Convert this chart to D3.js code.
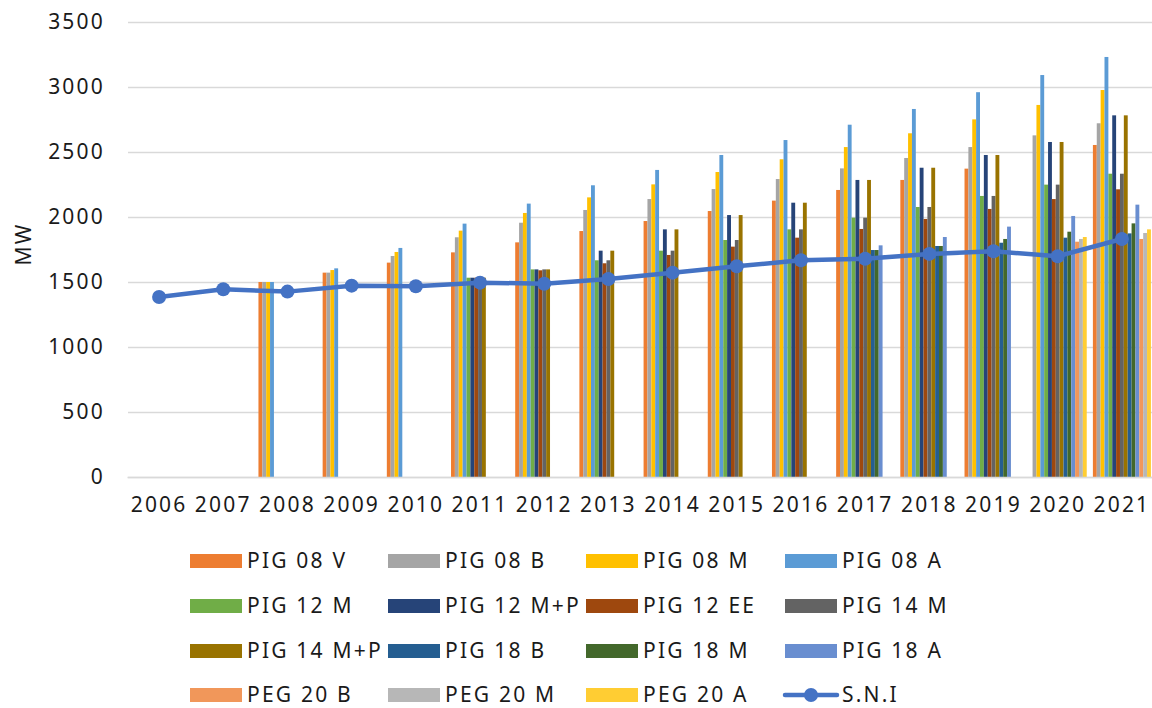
<!DOCTYPE html>
<html>
<head>
<meta charset="utf-8">
<script src="https://cdn.jsdelivr.net/npm/d3@7/dist/d3.min.js"></script>
<style>
  html, body { margin: 0; padding: 0; background: #fff; }
  svg { display: block; }
  text { font-family: "Noto Sans", "Open Sans", sans-serif; fill: #1a1a1a; letter-spacing: 2.2px; }
</style>
</head>
<body>
<svg id="chart" width="1152" height="708"></svg>
<script>
// Installed capacity by planning scenario (MW), 2006–2021
const years = ["2006","2007","2008","2009","2010","2011","2012","2013","2014","2015","2016","2017","2018","2019","2020","2021"];
const yTicks = [0, 500, 1000, 1500, 2000, 2500, 3000, 3500];

const seriesNames = ["PIG 08 V","PIG 08 B","PIG 08 M","PIG 08 A","PIG 12 M","PIG 12 M+P","PIG 12 EE","PIG 14 M","PIG 14 M+P","PIG 18 B","PIG 18 M","PIG 18 A","PEG 20 B","PEG 20 M","PEG 20 A"];
const seriesColors = ["#ed7d31","#a5a5a5","#ffc000","#5b9bd5","#70ad47","#264478","#9e480e","#636363","#997300","#255e91","#43682b","#698ed0","#f1975a","#b7b7b7","#ffcd33"];

const _ = null;
const pig08V  = [_,_,1500,1572,1649,1728,1805,1892,1969,2046,2126,2208,2285,2372,_,2554];
const pig08B  = [_,_,1500,1572,1700,1844,1956,2054,2138,2215,2292,2374,2454,2538,2628,2721];
const pig08M  = [_,_,1500,1592,1731,1895,2031,2151,2251,2346,2444,2538,2644,2751,2862,2977];
const pig08A  = [_,_,1500,1605,1762,1949,2103,2244,2362,2477,2592,2710,2831,2960,3092,3231];
const pig12M  = [_,_,_,_,_,1533,1597,1667,1741,1823,1905,1995,2077,2162,2249,2333];
const pig12MP = [_,_,_,_,_,1533,1597,1741,1905,2015,2110,2285,2379,2477,2577,2782];
const pig12EE = [_,_,_,_,_,1533,1590,1644,1708,1772,1841,1908,1985,2062,2138,2213];
const pig14M  = [_,_,_,_,_,1533,1597,1667,1741,1823,1905,1995,2077,2162,2249,2333];
const pig14MP = [_,_,_,_,_,1533,1597,1741,1905,2015,2110,2285,2379,2477,2577,2782];
const pig18B  = [_,_,_,_,_,_,_,_,_,_,_,1746,1777,1802,1841,1874];
const pig18M  = [_,_,_,_,_,_,_,_,_,_,_,1746,1777,1831,1887,1951];
const pig18A  = [_,_,_,_,_,_,_,_,_,_,_,1782,1846,1926,2008,2095];
const peg20B  = [_,_,_,_,_,_,_,_,_,_,_,_,_,_,1810,1831];
const peg20M  = [_,_,_,_,_,_,_,_,_,_,_,_,_,_,1831,1877];
const peg20A  = [_,_,_,_,_,_,_,_,_,_,_,_,_,_,1846,1905];
const sni     = [1385,1444,1426,1472,1467,1495,1487,1523,1572,1621,1667,1679,1716,1736,1698,1831];

const seriesValues = [pig08V,pig08B,pig08M,pig08A,pig12M,pig12MP,pig12EE,pig14M,pig14MP,pig18B,pig18M,pig18A,peg20B,peg20M,peg20A];
const lineName = "S.N.I";
const lineColor = "#4472c4";

const svg = d3.select("#chart");
const plot = { left: 127, right: 1154, top: 22, bottom: 477 };
const fontSize = 21;

const x = d3.scaleBand().domain(years).range([plot.left, plot.right]).padding(0);
const clusterPad = 0.048;
const xs = d3.scaleBand().domain(d3.range(seriesNames.length))
  .range([x.bandwidth() * clusterPad, x.bandwidth() * (1 - clusterPad)]).padding(0);
const y = d3.scaleLinear().domain([0, 3500]).range([plot.bottom, plot.top]);

// horizontal grid
const yAxis = d3.axisLeft(y).tickValues(yTicks).tickFormat(d3.format("d"))
  .tickSize(-(plot.right - plot.left)).tickPadding(23);
const gy = svg.append("g").attr("transform", `translate(${plot.left + 1},0)`).call(yAxis);
gy.select(".domain").remove();
gy.selectAll(".tick line").attr("stroke", "#d9d9d9").attr("stroke-width", 1.3);
gy.selectAll(".tick text").attr("font-size", fontSize).attr("fill", "#1a1a1a")
  .style("font-family", "'Noto Sans', sans-serif");

// bars
const groups = svg.append("g").selectAll("g")
  .data(years).join("g")
  .attr("transform", d => `translate(${x(d)},0)`);
groups.selectAll("rect")
  .data((yr, i) => seriesValues.map((vals, s) => ({ s, v: vals[i] })).filter(d => d.v != null))
  .join("rect")
  .attr("x", d => xs(d.s))
  .attr("width", xs.bandwidth())
  .attr("y", d => y(d.v))
  .attr("height", d => y(0) - y(d.v))
  .attr("fill", d => seriesColors[d.s]);

// category axis baseline + labels
const xAxis = d3.axisBottom(x).tickSize(0).tickPadding(20);
const gx = svg.append("g").attr("transform", `translate(0,${plot.bottom})`).call(xAxis);
gx.select(".domain").attr("stroke", "#d9d9d9").attr("stroke-width", 1.6);
gx.selectAll(".tick text").attr("font-size", fontSize).attr("fill", "#1a1a1a")
  .style("font-family", "'Noto Sans', sans-serif");

// S.N.I line
const cx = d => x(d) + x.bandwidth() / 2;
const lineGen = d3.line().x((d, i) => cx(years[i])).y(d => y(d));
svg.append("path").datum(sni)
  .attr("d", lineGen).attr("fill", "none")
  .attr("stroke", lineColor).attr("stroke-width", 4.5).attr("stroke-linejoin", "round");
svg.append("g").selectAll("circle").data(sni).join("circle")
  .attr("cx", (d, i) => cx(years[i])).attr("cy", d => y(d)).attr("r", 7)
  .attr("fill", lineColor);

// y axis title
svg.append("text")
  .attr("transform", "translate(31,244) rotate(-90)")
  .attr("text-anchor", "middle").attr("font-size", fontSize).text("MW");

// legend
const legendItems = seriesNames.map((n, i) => ({ name: n, color: seriesColors[i], type: "bar" }))
  .concat([{ name: lineName, color: lineColor, type: "line" }]);
const colX = [190, 388, 586, 785];
const rowY = [561, 606, 651, 695];
const lg = svg.append("g").selectAll("g").data(legendItems).join("g")
  .attr("transform", (d, i) => `translate(${colX[i % 4]},${rowY[Math.floor(i / 4)]})`);
lg.filter(d => d.type === "bar").append("rect")
  .attr("x", 0).attr("y", -7).attr("width", 52).attr("height", 14).attr("fill", d => d.color);
const ll = lg.filter(d => d.type === "line");
ll.append("line").attr("x1", 0).attr("x2", 52).attr("y1", 0).attr("y2", 0)
  .attr("stroke", d => d.color).attr("stroke-width", 4.5).attr("stroke-linecap", "round");
ll.append("circle").attr("cx", 26).attr("cy", 0).attr("r", 7).attr("fill", d => d.color);
lg.append("text").attr("x", 57).attr("y", 0).attr("dy", "0.35em")
  .attr("font-size", fontSize).text(d => d.name);
</script>
</body>
</html>
